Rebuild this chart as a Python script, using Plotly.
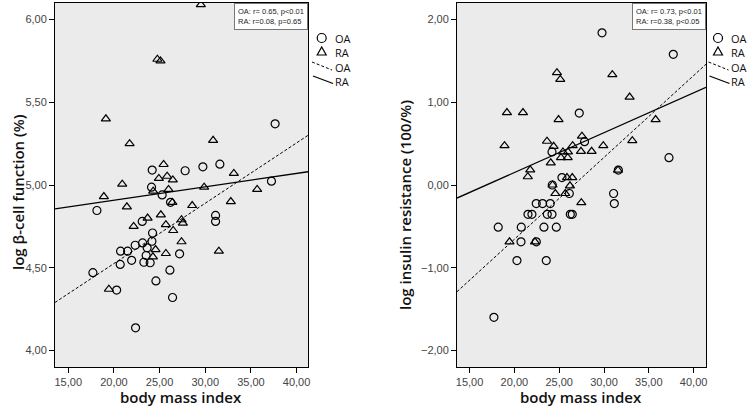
import plotly.graph_objects as go

W, H = 749, 418

# ---------------- data ----------------
# Left panel: BMI vs log beta-cell function
left_oa_bmi = [37.65, 31.6, 29.74, 27.8, 24.19, 24.12, 25.28, 26.2, 18.14, 31.13, 31.13, 23.1,
               37.25, 24.23, 24.16, 23.14, 22.33, 21.5, 20.73, 23.64, 23.53, 27.19, 21.94, 20.69,
               23.28, 23.97, 26.13, 17.7, 24.6, 20.3, 26.42, 22.37]
left_oa_beta = [5.37, 5.126, 5.11, 5.086, 5.09, 4.987, 4.94, 4.895, 4.846, 4.816, 4.78, 4.78,
                5.023, 4.71, 4.66, 4.65, 4.636, 4.60, 4.60, 4.62, 4.574, 4.584, 4.545, 4.52,
                4.533, 4.53, 4.485, 4.47, 4.42, 4.365, 4.32, 4.137]
left_ra_bmi = [29.52, 24.76, 25.1, 19.12, 21.72, 30.86, 25.44, 33.13, 24.92, 25.83, 26.45, 20.91,
               24.3, 25.98, 29.88, 18.9, 26.4, 21.42, 28.57, 32.8, 23.69, 25.14, 27.4, 27.55,
               22.16, 25.69, 26.49, 27.4, 24.56, 24.27, 25.69, 31.49, 19.45, 35.68]
left_ra_beta = [6.09, 5.76, 5.75, 5.40, 5.25, 5.27, 5.124, 5.07, 5.04, 5.053, 5.031, 5.005,
                4.963, 4.973, 4.987, 4.93, 4.895, 4.868, 4.876, 4.90, 4.80, 4.82, 4.79, 4.77,
                4.75, 4.76, 4.725, 4.657, 4.61, 4.566, 4.586, 4.60, 4.37, 4.973]

# Right panel: BMI vs log insulin resistance
right_oa_bmi = [29.78, 37.73, 27.24, 27.83, 37.25, 24.2, 31.6, 25.31, 24.23, 26.13, 31.07, 31.15,
                22.44, 23.15, 24.0, 21.52, 21.96, 23.67, 24.2, 26.24, 26.46, 18.2, 20.77, 23.3,
                24.68, 20.74, 22.45, 20.29, 23.56, 17.72]
right_oa_ir = [1.84, 1.58, 0.869, 0.524, 0.33, 0.40, 0.18, 0.09, 0.0, -0.103, -0.103, -0.225,
               -0.225, -0.225, -0.225, -0.355, -0.355, -0.355, -0.355, -0.355, -0.355, -0.51, -0.51, -0.51,
               -0.51, -0.687, -0.687, -0.914, -0.914, -1.60]
right_ra_bmi = [30.93, 24.75, 25.12, 32.86, 19.17, 20.96, 24.93, 35.76, 18.9, 23.64, 24.38, 27.54,
                33.16, 29.92, 25.42, 25.98, 25.2, 25.95, 26.5, 27.43, 28.62, 24.06, 21.77, 21.5,
                31.56, 25.87, 26.46, 26.2, 24.57, 25.68, 27.47, 19.46, 22.3, 24.26]
right_ra_ir = [1.334, 1.358, 1.277, 1.063, 0.876, 0.876, 0.791, 0.791, 0.475, 0.529, 0.468, 0.59,
               0.536, 0.475, 0.40, 0.40, 0.33, 0.33, 0.475, 0.407, 0.407, 0.268, 0.184, 0.10,
               0.18, 0.09, 0.09, -0.01, -0.103, -0.103, -0.213, -0.687, -0.687, 0.0]

# Fit lines (values at the left/right ends of the x range)
left_fit_bmi = [13.55, 41.25]
left_oa_fit = [4.29, 5.30]
left_ra_fit = [4.856, 5.08]
right_fit_bmi = [13.6, 41.38]
right_oa_fit = [-1.29, 1.46]
right_ra_fit = [-0.158, 1.18]

left_stats = ["OA: r= 0.65, p<0.01", "RA: r=0.08, p=0.65"]
right_stats = ["OA: r= 0.73, p<0.01", "RA: r=0.38, p<0.05"]
group_labels = ["OA", "RA"]

x_title = "body mass index"
left_y_title = "log β-cell function (%)"
right_y_title = "log insulin resistance (100/%)"

# ---------------- helpers ----------------
def fx(p):
    return p / W

def fy(p):
    return 1 - p / H

TITLE_FONT = dict(family="Open Sans", size=15, color="#111", weight=600)
TICK_FONT = dict(family="Liberation Sans", size=11, color="#444")

fig = go.Figure()

marker_circle = dict(symbol="circle-open", size=8, color="black", line=dict(width=1.2, color="black"))
marker_tri = dict(symbol="triangle-up-open", size=8, color="black", line=dict(width=1.2, color="black"))

for xa, ya, oa_x, oa_y, ra_x, ra_y, fxv, foa, fra in [
    ("x", "y", left_oa_bmi, left_oa_beta, left_ra_bmi, left_ra_beta, left_fit_bmi, left_oa_fit, left_ra_fit),
    ("x2", "y2", right_oa_bmi, right_oa_ir, right_ra_bmi, right_ra_ir, right_fit_bmi, right_oa_fit, right_ra_fit),
]:
    fig.add_trace(go.Scatter(x=fxv, y=foa, mode="lines", xaxis=xa, yaxis=ya,
                             line=dict(color="black", width=1, dash="3px,2px"), name="OA fit", showlegend=False))
    fig.add_trace(go.Scatter(x=fxv, y=fra, mode="lines", xaxis=xa, yaxis=ya,
                             line=dict(color="black", width=1.3), name="RA fit", showlegend=False))
    fig.add_trace(go.Scatter(x=ra_x, y=ra_y, mode="markers", xaxis=xa, yaxis=ya,
                             marker=marker_tri, name="RA", showlegend=False))
    fig.add_trace(go.Scatter(x=oa_x, y=oa_y, mode="markers", xaxis=xa, yaxis=ya,
                             marker=marker_circle, name="OA", showlegend=False))

axis_common = dict(showline=True, linecolor="black", linewidth=1, mirror=True,
                   ticks="outside", ticklen=5, tickcolor="black", tickwidth=1,
                   showgrid=False, zeroline=False, tickfont=TICK_FONT, tickformat=".2f",
                   automargin=False)

ytop, ybot = 3, 367
fig.update_layout(
    template="none",
    width=W, height=H,
    margin=dict(l=0, r=0, t=0, b=0, pad=0),
    paper_bgcolor="white",
    plot_bgcolor="#ebebeb",
    separators=",.",
    showlegend=False,
    xaxis=dict(domain=[fx(55), fx(308)], range=left_fit_bmi, tick0=15, dtick=5, anchor="y", **axis_common),
    yaxis=dict(domain=[fy(ybot), fy(ytop)], range=[3.9, 6.1], tick0=4, dtick=0.5, anchor="x", **axis_common),
    xaxis2=dict(domain=[fx(457), fx(706)], range=right_fit_bmi, tick0=15, dtick=5, anchor="y2", **axis_common),
    yaxis2=dict(domain=[fy(ybot), fy(ytop)], range=[-2.2, 2.2], tick0=-2, dtick=1, anchor="x2", **axis_common),
)

ann = []
C = dict(xref="paper", yref="paper", showarrow=False, xanchor="center", yanchor="middle")
# axis titles
ann.append(dict(text=x_title, x=fx(181), y=fy(397), font=TITLE_FONT, **C))
ann.append(dict(text=x_title, x=fx(581), y=fy(397), font=TITLE_FONT, **C))
ann.append(dict(text=left_y_title, x=fx(18), y=fy(192), textangle=-90, font=TITLE_FONT, **C))
ann.append(dict(text=right_y_title, x=fx(405), y=fy(205), textangle=-90, font=TITLE_FONT, **C))

# stats boxes
STAT_FONT = dict(family="Liberation Sans", size=7.5, color="#222")
ann.append(dict(text="<br>".join(left_stats), x=fx(308), y=fy(ytop), xref="paper", yref="paper",
                xanchor="right", yanchor="top", align="left", showarrow=False, font=STAT_FONT,
                bgcolor="white", bordercolor="#777", borderwidth=1, borderpad=3))
ann.append(dict(text="<br>".join(right_stats), x=fx(706), y=fy(ytop), xref="paper", yref="paper",
                xanchor="right", yanchor="top", align="left", showarrow=False, font=STAT_FONT,
                bgcolor="white", bordercolor="#777", borderwidth=1, borderpad=3))

# custom legends
LEG_FONT = dict(family="Open Sans", size=11, color="#111")
shapes = []
for cx, tx, line_x0 in [(321.7, 333, 312), (718, 729, 708.5)]:
    # circle
    shapes.append(dict(type="circle", xref="paper", yref="paper",
                       x0=fx(cx - 4.5), x1=fx(cx + 4.5), y0=fy(38 + 4.5), y1=fy(38 - 4.5),
                       line=dict(color="black", width=1.2)))
    # triangle
    shapes.append(dict(type="path", xref="paper", yref="paper",
                       path=f"M {fx(cx-4.5)} {fy(55)} L {fx(cx+4.5)} {fy(55)} L {fx(cx)} {fy(47)} Z",
                       line=dict(color="black", width=1.2)))
    # dashed slanted line
    shapes.append(dict(type="line", xref="paper", yref="paper",
                       x0=fx(line_x0), y0=fy(62), x1=fx(line_x0 + 20), y1=fy(70),
                       line=dict(color="black", width=1, dash="3px,2px")))
    # solid slanted line
    shapes.append(dict(type="line", xref="paper", yref="paper",
                       x0=fx(line_x0 + 1), y0=fy(76), x1=fx(line_x0 + 21), y1=fy(83.5),
                       line=dict(color="black", width=1.3)))
    ann.append(dict(text="<br>".join(group_labels + group_labels), x=fx(tx), y=fy(59.5),
                    xref="paper", yref="paper", xanchor="left", yanchor="middle", align="left",
                    showarrow=False, font=LEG_FONT))

fig.update_layout(annotations=ann, shapes=shapes)
fig.write_html("out.html", config={"displayModeBar": False},
               post_script="document.body.style.margin='0';document.body.style.padding='0';")
